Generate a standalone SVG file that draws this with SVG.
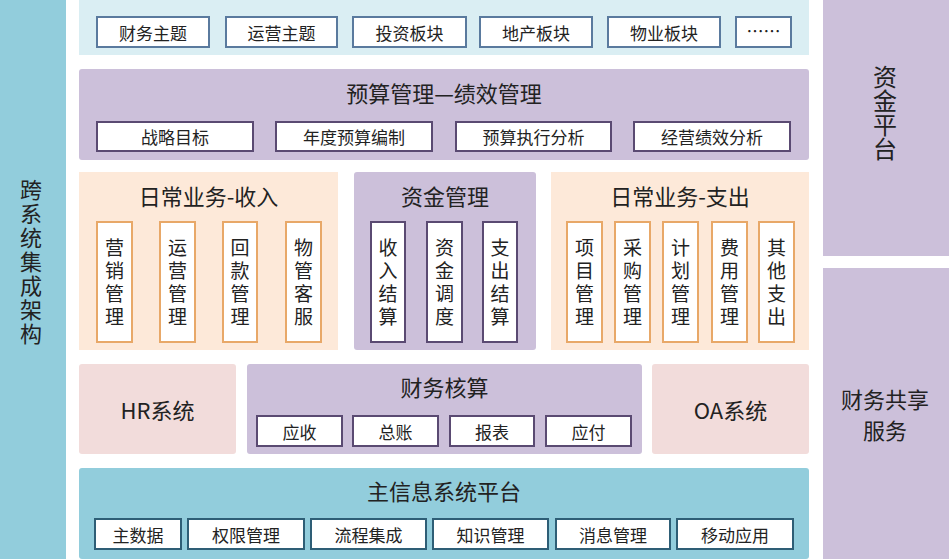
<svg xmlns="http://www.w3.org/2000/svg" width="949" height="559" viewBox="0 0 949 559">
<style>
text{font-family:"Noto Sans CJK SC","Noto Sans",sans-serif;fill:#222;text-anchor:middle;dominant-baseline:central}
.t17{font-size:17px}
.v19{font-size:19px;writing-mode:vertical-rl;letter-spacing:4px}
.t22{font-size:22px}
.bx{fill:#fff;stroke-width:2}
.bb{stroke:#5A7A9E}
.bp{stroke:#5A4A72}
.bo{stroke:#E8A868}
.bt{stroke:#2E5E76}
</style>
<rect width="949" height="559" fill="#fff"/>
<g id="left-bar">
<rect x="0" y="0" width="66" height="559" fill="#92CDDC"/>
<text x="31" y="263" style="font-size:22px;writing-mode:vertical-rl;letter-spacing:2px">跨系统集成架构</text>
</g>
<g id="fund-platform">
<rect x="823" y="0" width="126" height="256" fill="#CCC0DA"/>
<text x="885" y="113" style="font-size:24px;writing-mode:vertical-rl">资金平台</text>
</g>
<g id="shared-service">
<rect x="823" y="268" width="126" height="291" fill="#CCC0DA"/>
<text class="t22" x="885" y="398">财务共享</text>
<text class="t22" x="885" y="429">服务</text>
</g>
<g id="topics">
<rect x="79" y="0" width="730" height="55" fill="#DAEEF3"/>
<rect class="bx bb" x="97" y="17" width="112" height="30"/><text class="t17" x="153" y="32">财务主题</text>
<rect class="bx bb" x="226" y="17" width="111" height="30"/><text class="t17" x="281.5" y="32">运营主题</text>
<rect class="bx bb" x="353" y="17" width="113" height="30"/><text class="t17" x="409.5" y="32">投资板块</text>
<rect class="bx bb" x="480" y="17" width="112" height="30"/><text class="t17" x="536" y="32">地产板块</text>
<rect class="bx bb" x="608" y="17" width="112" height="30"/><text class="t17" x="664" y="32">物业板块</text>
<rect class="bx bb" x="736" y="17" width="55" height="30"/><text class="t17" x="763.5" y="30">……</text>
</g>
<g id="budget">
<rect x="79" y="69" width="730" height="91" rx="3" fill="#CCC0DA"/>
<text class="t22" x="444" y="92">预算管理—绩效管理</text>
<rect class="bx bp" x="97" y="122" width="156" height="29"/><text class="t17" x="175" y="136.5">战略目标</text>
<rect class="bx bp" x="276" y="122" width="156" height="29"/><text class="t17" x="354" y="136.5">年度预算编制</text>
<rect class="bx bp" x="456" y="122" width="155" height="29"/><text class="t17" x="533.5" y="136.5">预算执行分析</text>
<rect class="bx bp" x="634" y="122" width="156" height="29"/><text class="t17" x="712" y="136.5">经营绩效分析</text>
</g>
<g id="income">
<rect x="79" y="172" width="259" height="178" fill="#FDE9D9"/>
<text class="t22" x="208.5" y="195">日常业务-收入</text>
<rect class="bx bo" x="97" y="222" width="35" height="120"/><text class="v19" x="114.5" y="284">营销管理</text>
<rect class="bx bo" x="160" y="222" width="35" height="120"/><text class="v19" x="177.5" y="284">运营管理</text>
<rect class="bx bo" x="223" y="222" width="34" height="120"/><text class="v19" x="240" y="284">回款管理</text>
<rect class="bx bo" x="286" y="222" width="35" height="120"/><text class="v19" x="303.5" y="284">物管客服</text>
</g>
<g id="fund-mgmt">
<rect x="354" y="172" width="182" height="178" rx="3" fill="#CCC0DA"/>
<text class="t22" x="445" y="195">资金管理</text>
<rect class="bx bp" x="371" y="222" width="34" height="120"/><text class="v19" x="388" y="284">收入结算</text>
<rect class="bx bp" x="427" y="222" width="35" height="120"/><text class="v19" x="444.5" y="284">资金调度</text>
<rect class="bx bp" x="483" y="222" width="34" height="120"/><text class="v19" x="500" y="284">支出结算</text>
</g>
<g id="expense">
<rect x="551" y="172" width="258" height="178" fill="#FDE9D9"/>
<text class="t22" x="680" y="195">日常业务-支出</text>
<rect class="bx bo" x="567" y="222" width="35" height="120"/><text class="v19" x="584.5" y="284">项目管理</text>
<rect class="bx bo" x="615" y="222" width="35" height="120"/><text class="v19" x="632.5" y="284">采购管理</text>
<rect class="bx bo" x="663" y="222" width="35" height="120"/><text class="v19" x="680.5" y="284">计划管理</text>
<rect class="bx bo" x="712" y="222" width="35" height="120"/><text class="v19" x="729.5" y="284">费用管理</text>
<rect class="bx bo" x="759" y="222" width="35" height="120"/><text class="v19" x="776.5" y="284">其他支出</text>
</g>
<g id="hr">
<rect x="79" y="364" width="157" height="90" rx="3" fill="#F2DCDB"/>
<text class="t22" x="157.5" y="409">HR系统</text>
</g>
<g id="accounting">
<rect x="247" y="364" width="395" height="90" rx="3" fill="#CCC0DA"/>
<text class="t22" x="444.5" y="386">财务核算</text>
<rect class="bx bp" x="257" y="416" width="85" height="30"/><text class="t17" x="299.5" y="431">应收</text>
<rect class="bx bp" x="353" y="416" width="85" height="30"/><text class="t17" x="395.5" y="431">总账</text>
<rect class="bx bp" x="450" y="416" width="84" height="30"/><text class="t17" x="492" y="431">报表</text>
<rect class="bx bp" x="546" y="416" width="85" height="30"/><text class="t17" x="588.5" y="431">应付</text>
</g>
<g id="oa">
<rect x="652" y="364" width="157" height="90" rx="3" fill="#F2DCDB"/>
<text class="t22" x="730.5" y="409">OA系统</text>
</g>
<g id="main-platform">
<rect x="79" y="468" width="730" height="91" rx="3" fill="#92CDDC"/>
<text class="t22" x="444" y="490">主信息系统平台</text>
<rect class="bx bt" x="95" y="519" width="86" height="30"/><text class="t17" x="138" y="534">主数据</text>
<rect class="bx bt" x="188" y="519" width="116" height="30"/><text class="t17" x="246" y="534">权限管理</text>
<rect class="bx bt" x="311" y="519" width="115" height="30"/><text class="t17" x="368.5" y="534">流程集成</text>
<rect class="bx bt" x="433" y="519" width="115" height="30"/><text class="t17" x="490.5" y="534">知识管理</text>
<rect class="bx bt" x="556" y="519" width="114" height="30"/><text class="t17" x="613" y="534">消息管理</text>
<rect class="bx bt" x="677" y="519" width="116" height="30"/><text class="t17" x="735" y="534">移动应用</text>
</g>
<g id="connectors"></g>
</svg>
